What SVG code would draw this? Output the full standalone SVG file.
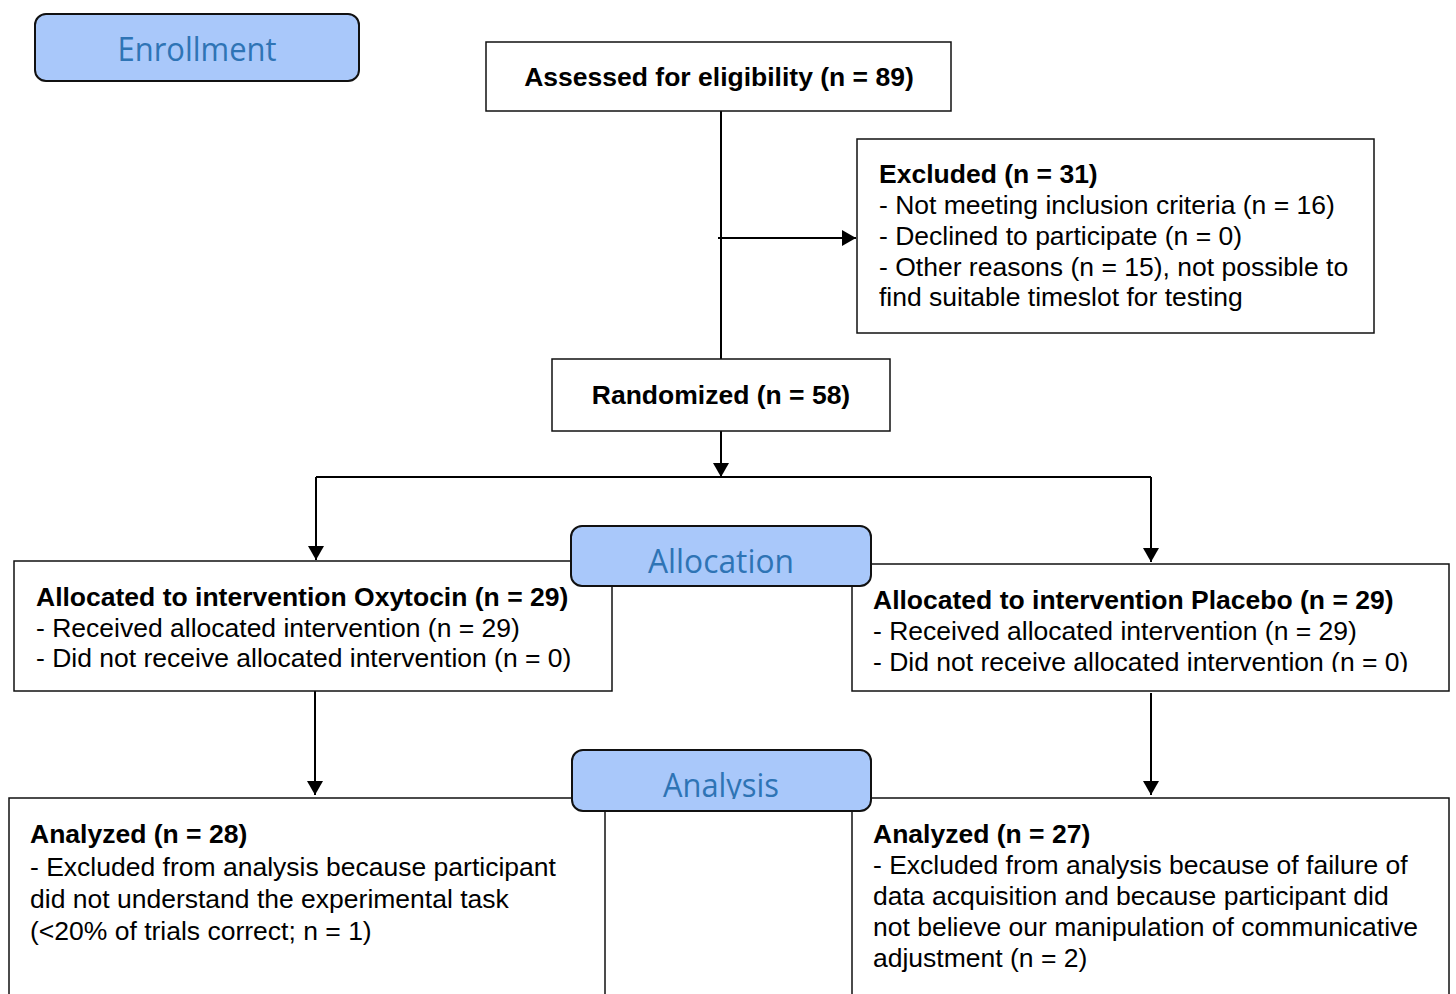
<svg xmlns="http://www.w3.org/2000/svg" width="1456" height="994" viewBox="0 0 1456 994">
<style>
.box{fill:#fff;stroke:#111;stroke-width:1.5}
.lab{fill:#a9c8fa;stroke:#111;stroke-width:2}
.lt{font-family:"Open Sans","Noto Sans",sans-serif;font-size:32px;fill:#2e74b5;text-anchor:middle}
.t{font-family:"Liberation Sans",Arial,sans-serif;font-size:26.5px;fill:#000}
.b{font-weight:bold}
.c{text-anchor:middle}
.ln{stroke:#000;stroke-width:2;fill:none}
</style>
<defs>
<marker id="ah" markerUnits="userSpaceOnUse" markerWidth="14" markerHeight="16" viewBox="0 0 14 16" refX="14" refY="8" orient="auto">
<path d="M0,0 L14,8 L0,16 Z" fill="#000"/>
</marker>
<clipPath id="clipAn"><rect x="560" y="740" width="330" height="59"/></clipPath>
<clipPath id="clipR"><rect x="851" y="564" width="597" height="108"/></clipPath>
</defs>
<rect width="1456" height="994" fill="#fff"/>
<g id="connectors">
<line class="ln" x1="721" y1="111" x2="721" y2="359"/>
<line class="ln" x1="718" y1="238" x2="856" y2="238" marker-end="url(#ah)"/>
<line class="ln" x1="721" y1="431" x2="721" y2="477" marker-end="url(#ah)"/>
<line class="ln" x1="316" y1="477" x2="1151" y2="477"/>
<line class="ln" x1="316" y1="477" x2="316" y2="560" marker-end="url(#ah)"/>
<line class="ln" x1="1151" y1="477" x2="1151" y2="562" marker-end="url(#ah)"/>
<line class="ln" x1="315" y1="691" x2="315" y2="795" marker-end="url(#ah)"/>
<line class="ln" x1="1151" y1="693" x2="1151" y2="795" marker-end="url(#ah)"/>
</g>
<g id="enrollment">
<rect class="lab" x="35" y="14" width="324" height="67" rx="11"/>
<text class="lt" x="197" y="61" textLength="159" lengthAdjust="spacingAndGlyphs">Enrollment</text>
</g>
<g id="assessed">
<rect class="box" x="486" y="42" width="465" height="69"/>
<text class="t b c" x="719" y="86">Assessed for eligibility (n = 89)</text>
</g>
<g id="excluded">
<rect class="box" x="857" y="139" width="517" height="194"/>
<text class="t b" x="879" y="183">Excluded (n = 31)</text>
<text class="t" x="879" y="214">- Not meeting inclusion criteria (n = 16)</text>
<text class="t" x="879" y="245">- Declined to participate (n = 0)</text>
<text class="t" x="879" y="276">- Other reasons (n = 15), not possible to</text>
<text class="t" x="879" y="306">find suitable timeslot for testing</text>
</g>
<g id="randomized">
<rect class="box" x="552" y="359" width="338" height="72"/>
<text class="t b c" x="721" y="404">Randomized (n = 58)</text>
</g>
<g id="alloc-oxytocin">
<rect class="box" x="14" y="561" width="598" height="130"/>
<text class="t b" x="36" y="606">Allocated to intervention Oxytocin (n = 29)</text>
<text class="t" x="36" y="637">- Received allocated intervention (n = 29)</text>
<text class="t" x="36" y="667">- Did not receive allocated intervention (n = 0)</text>
</g>
<g id="alloc-placebo">
<rect class="box" x="852" y="564" width="597" height="127"/>
<text class="t b" x="873" y="609">Allocated to intervention Placebo (n = 29)</text>
<text class="t" x="873" y="640">- Received allocated intervention (n = 29)</text>
<text class="t" x="873" y="671" clip-path="url(#clipR)">- Did not receive allocated intervention (n = 0)</text>
</g>
<g id="allocation">
<rect class="lab" x="571" y="526" width="300" height="60" rx="11"/>
<text class="lt" x="721" y="573" textLength="146" lengthAdjust="spacingAndGlyphs">Allocation</text>
</g>
<g id="analyzed-oxytocin">
<rect class="box" x="9" y="798" width="596" height="210"/>
<text class="t b" x="30" y="843">Analyzed (n = 28)</text>
<text class="t" x="30" y="876">- Excluded from analysis because participant</text>
<text class="t" x="30" y="908">did not understand the experimental task</text>
<text class="t" x="30" y="940">(&lt;20% of trials correct; n = 1)</text>
</g>
<g id="analyzed-placebo">
<rect class="box" x="852" y="798" width="597" height="210"/>
<text class="t b" x="873" y="843">Analyzed (n = 27)</text>
<text class="t" x="873" y="874">- Excluded from analysis because of failure of</text>
<text class="t" x="873" y="905">data acquisition and because participant did</text>
<text class="t" x="873" y="936">not believe our manipulation of communicative</text>
<text class="t" x="873" y="967">adjustment (n = 2)</text>
</g>
<g id="analysis">
<rect class="lab" x="572" y="750" width="299" height="61" rx="11"/>
<text class="lt" x="721" y="797" textLength="116" lengthAdjust="spacingAndGlyphs" clip-path="url(#clipAn)">Analysis</text>
</g>
</svg>
